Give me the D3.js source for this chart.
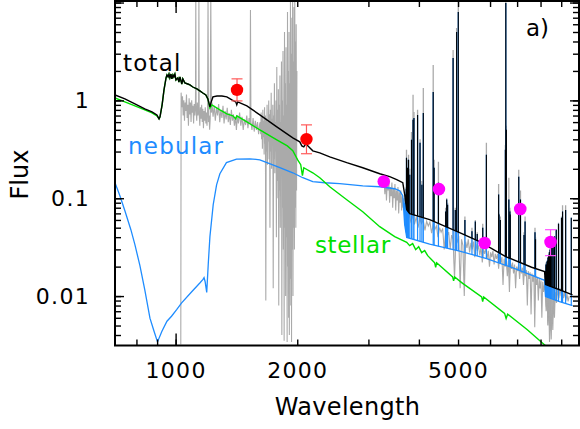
<!DOCTYPE html>
<html>
<head>
<meta charset="utf-8">
<script src="https://cdn.jsdelivr.net/npm/d3@7"></script>
<style>
  body { margin: 0; background: #fff; }
  text { font-family: "DejaVu Sans", sans-serif; }
</style>
</head>
<body>
<div id="chart"></div>
<script>
// SED panel a) -- wavelength [A] vs flux, log-log

// observed spectrum, UV part (wavelength, flux)
var obsUV = [
  [1030,0.0032],[1032,1.2],[1036,0.85],[1040,1.1],[1044,0.7],[1048,1.0],[1052,0.62],[1056,0.95],[1060,0.78],
  [1064,1.15],[1068,0.66],[1072,0.9],[1076,0.55],[1080,1.05],[1084,0.72],[1088,0.95],[1092,0.6],[1096,1.0],
  [1100,0.75],[1104,0.88],[1108,0.58],[1112,0.92],[1116,0.7],[1120,1.0],[1122,12],[1124,0.8],[1128,0.62],
  [1132,0.95],[1136,0.7],[1140,0.9],[1142,12],[1144,0.72],[1148,0.55],[1152,0.85],[1156,0.65],[1160,0.9],
  [1164,0.6],[1168,0.82],[1172,0.52],[1176,0.78],[1180,0.62],[1184,0.85],[1188,0.58],[1192,0.75],[1196,0.55],
  [1200,0.8],[1203,12],[1206,0.6],[1210,0.7],[1214,0.5],[1218,0.65],[1222,12],[1226,0.75],
  [1230,0.95],[1238,0.68],[1246,0.88],[1254,0.62],[1262,0.85],[1270,0.7],[1278,0.92],[1286,0.6],[1294,0.8],
  [1302,0.66],[1310,0.88],[1318,0.58],[1326,0.78],[1334,0.64],[1342,0.84],[1350,0.6],[1358,0.74],[1366,0.56],
  [1374,0.8],[1382,0.62],[1390,0.72],[1398,0.55],[1406,0.68],[1414,0.5],[1422,0.7],[1430,0.58],[1440,0.75],
  [1450,0.55],[1460,0.68],[1470,0.5],[1480,0.64],[1490,0.56],[1500,0.7],[1510,0.52],[1520,0.66],[1528,0.58],
  [1532,8.4],[1536,0.6],[1545,0.5],[1555,0.66],[1565,0.48],[1575,0.62],[1585,0.5],[1595,0.6],[1605,0.45],
  [1615,0.58],
  [1620,0.6],[1624,0.45],[1628,0.75],[1632,0.4],[1636,0.68],[1640,0.32],[1644,0.8],[1648,0.42],[1652,0.62],
  [1656,0.28],[1660,0.85],[1664,0.36],[1668,0.7],[1672,0.009],[1676,0.66],[1680,0.3],[1684,0.9],[1688,0.22],
  [1692,0.6],[1696,0.38],[1700,1.0],[1704,0.25],[1708,0.72],[1712,0.05],[1716,0.8],[1720,0.3],[1724,1.2],
  [1728,0.2],[1732,0.65],[1736,0.35],[1740,0.9],[1744,0.012],[1748,0.7],[1752,0.25],[1756,1.5],[1760,0.18],
  [1764,0.6],[1768,0.3],[1772,1.0],[1776,0.04],[1780,2.2],[1784,0.15],[1788,0.8],[1792,0.1],[1796,1.3],
  [1800,0.008],[1804,0.9],[1808,0.12],[1812,1.8],[1816,0.05],[1820,0.6],[1824,0.2],[1828,2.5],[1832,0.004],
  [1836,1.0],[1840,0.08],[1844,3.2],[1848,0.03],[1852,0.7],[1856,0.0035],[1860,5],[1864,0.05],[1868,1.5],
  [1872,0.01],[1876,3.5],[1880,0.04],[1884,0.9],[1888,0.0034],[1892,8],[1896,0.02],[1900,2.0],[1904,0.006],
  [1908,5],[1912,0.004],[1916,1.5],[1920,0.015],[1924,12],[1928,0.008],[1932,3],[1936,0.0034],[1940,7],
  [1944,0.03],[1948,12],[1952,0.01],[1956,2.5],[1960,0.05],[1964,9],[1968,0.03],[1972,12],[1976,0.08],
  [1980,4],[1984,0.05],[1988,6],[1992,0.12],[1996,2]
];

// observed spectrum, optical part
var obsOpt = [
  [3280,0.15],[3295,0.11],[3310,0.16],[3325,0.095],[3340,0.14],[3355,0.12],[3370,0.155],[3385,0.09],[3400,0.13],
  [3415,0.105],[3430,0.145],[3445,0.08],[3460,0.125],[3475,0.1],[3490,0.14],[3505,0.075],[3520,0.12],[3535,0.095],
  [3550,0.13],[3565,0.07],[3580,0.115],[3595,0.09],[3610,0.12],[3625,0.075],[3640,0.105],[3655,0.08],[3670,0.1],
  [3700,0.075],[3740,0.062],[3780,0.07],[3820,0.058],[3860,0.066],[3900,0.054],[3940,0.064],[3980,0.05],
  [4020,0.062],[4060,0.055],[4100,0.06],[4140,0.047],[4180,0.058],[4220,0.052],[4260,0.057],[4300,0.044],
  [4340,0.054],[4380,0.048],[4420,0.052],[4460,0.04],[4500,0.05],[4540,0.045],[4580,0.049],[4620,0.03],
  [4660,0.046],[4700,0.041],[4740,0.045],[4780,0.03],[4820,0.042],[4860,0.038],[4900,0.015],[4940,0.04],
  [4980,0.036],[5020,0.041],[5060,0.012],[5100,0.038],[5140,0.033],[5180,0.01],[5220,0.036],[5260,0.031],
  [5300,0.038],[5340,0.028],[5380,0.035],[5420,0.03],[5460,0.036],[5500,0.025],[5540,0.034],[5580,0.029],
  [5620,0.033],[5660,0.026],[5700,0.032],[5740,0.022],[5780,0.03],[5820,0.027],[5860,0.031],[5900,0.024],
  [5940,0.029],[5980,0.02],[6020,0.028],[6060,0.025],[6100,0.029],[6140,0.021],[6180,0.027],[6220,0.024],
  [6260,0.027],[6300,0.019],[6340,0.026],[6380,0.022],[6420,0.025],[6460,0.013],[6500,0.024],[6540,0.02],
  [6580,0.024],[6620,0.016],[6660,0.023],[6700,0.011],[6740,0.022],[6780,0.019],[6820,0.022],[6860,0.017],
  [6900,0.021],[6940,0.012],[6980,0.02],[7020,0.018],[7060,0.021],[7100,0.015],[7140,0.02],[7180,0.017],
  [7220,0.0195],[7260,0.013],[7300,0.019],[7340,0.016],[7380,0.0185],[7420,0.008],[7460,0.018],[7500,0.015],
  [7540,0.0175],[7580,0.0065],[7620,0.017],[7660,0.014],[7700,0.0165],[7740,0.0048],[7780,0.016],[7820,0.013],
  [7860,0.0155],[7900,0.009],[7940,0.015],[7980,0.012],[8020,0.0145],[8060,0.006],[8100,0.014],[8140,0.011],
  [8180,0.013],[8220,0.011],[8260,0.007],[8300,0.012],[8340,0.005],[8380,0.0095],[8420,0.0034],[8460,0.008],
  [8500,0.0036],[8540,0.009],[8580,0.0045],[8620,0.0105],[8660,0.006],[8700,0.011],[8760,0.0085],[8820,0.0115],
  [8880,0.0095],[8940,0.012],[9000,0.01],[9060,0.0115],[9120,0.0095],[9180,0.011],[9240,0.009],[9300,0.0105],
  [9360,0.0088],[9420,0.01]
];

// model continua
var totalCont = [
  [708,1.138],[749,1.036],[793,0.921],[839,0.819],[874,0.763],[899,0.711],[910,0.647],[915,0.678],[926,0.90],
  [936,1.28],[947,1.70],[952,1.82],[958,1.74],[963,1.86],[968,1.70],[974,1.86],[979,1.66],[985,1.82],[990,1.74],
  [996,1.86],[1002,1.62],[1013,1.70],[1019,1.54],[1025,1.74],[1036,1.47],[1042,1.66],[1054,1.51],[1072,1.47],
  [1085,1.44],[1103,1.37],[1129,1.31],[1148,1.25],[1168,1.19],[1188,1.138],[1202,1.036],[1216,0.858],[1223,0.943],
  [1237,1.085],[1266,1.11],[1302,1.11],[1339,1.085],[1378,1.012],[1409,0.965],[1417,0.90],[1425,0.965],
  [1501,0.879],[1616,0.711],[1780,0.537],[1950,0.414],[2029,0.377],[2053,0.343],[2076,0.335],[2100,0.36],
  [2185,0.305],[2274,0.291],[2407,0.265],[2652,0.231],[2905,0.205],[3200,0.178],[3387,0.166],[3525,0.155],
  [3649,0.144],[3689,0.109],[3732,0.0763],[3795,0.0695],[4253,0.0604],[5045,0.0445],[5654,0.036],[6560,0.0253],
  [7602,0.0197],[8185,0.0178],[8232,0.0131],[8913,0.0116],[9599,0.0103]
];

var stellarCont = [
  [708,1.06],[749,0.965],[793,0.879],[839,0.80],[874,0.745],[899,0.695],[910,0.647],[915,0.678],[926,0.90],
  [936,1.28],[947,1.70],[952,1.82],[958,1.74],[963,1.86],[968,1.70],[974,1.86],[979,1.66],[985,1.82],[990,1.74],
  [996,1.86],[1002,1.62],[1013,1.70],[1019,1.54],[1025,1.74],[1036,1.47],[1042,1.66],[1054,1.51],[1072,1.47],
  [1085,1.44],[1103,1.37],[1129,1.31],[1148,1.25],[1168,1.19],[1188,1.138],[1202,1.036],[1216,0.838],[1230,0.90],
  [1287,0.80],[1339,0.728],[1386,0.695],[1409,0.647],[1417,0.695],[1501,0.603],[1616,0.50],[1780,0.395],
  [1890,0.343],[1950,0.306],[2005,0.247],[2040,0.22],[2060,0.17],[2076,0.205],[2185,0.182],[2274,0.162],
  [2407,0.131],[2652,0.0966],[2905,0.0728],[3200,0.0512],[3485,0.0406],[3732,0.0354],[3795,0.0328],[3860,0.0344],
  [3927,0.0298],[3995,0.032],[4064,0.0278],[4134,0.0292],[4206,0.0259],[4326,0.023],[4376,0.0219],[4401,0.0197],
  [4426,0.0219],[4848,0.0157],[4875,0.0143],[4903,0.0157],[5133,0.0135],[5720,0.00981],[5753,0.00878],
  [5787,0.00981],[6518,0.00666],[6575,0.00591],[6632,0.00653],[7408,0.00455],[8232,0.00311]
];

var nebularCont = [
  [708,0.144],[728,0.106],[749,0.0745],[775,0.0477],[793,0.0335],[816,0.0205],[839,0.0116],[864,0.00595],
  [884,0.0044],[902,0.0034],[925,0.00437],[952,0.00553],[977,0.00622],[1006,0.00726],[1035,0.00853],
  [1099,0.0112],[1148,0.0136],[1169,0.0148],[1176,0.0154],[1183,0.0141],[1194,0.0109],[1205,0.0219],
  [1216,0.0405],[1239,0.0859],[1263,0.137],[1287,0.178],[1336,0.231],[1415,0.251],[1527,0.253],[1616,0.247],
  [1683,0.231],[1811,0.205],[1950,0.182],[2064,0.162],[2185,0.148],[2340,0.144],[2548,0.141],[2905,0.134],
  [3200,0.131],[3485,0.125],[3585,0.119],[3649,0.106],[3689,0.0537],[3732,0.0397],[4253,0.0339],[5045,0.0288],
  [5885,0.0242],[6860,0.0193],[8185,0.0145],[8232,0.00988],[8913,0.00878],[9599,0.00798]
];

// emission lines: wavelength, model peak, observed peak
var emLines = [
  [3686,0.09,0.095],[3697,0.1,0.105],[3712,0.109,0.115],[3722,0.125,0.13],[3727,0.259,0.313],[3734,0.15,0.16],
  [3750,0.205,0.247],[3771,0.247,0.278],[3798,0.174,0.2],[3835,0.395,0.476],[3869,0.633,1.14],[3889,0.66,0.763],
  [3970,0.711,0.80],[4026,0.368,0.40],[4069,0.137,0.15],[4102,0.745,1.34],[4340,1.22,2.3],[4363,0.205,0.247],
  [4471,0.144,0.236],[4658,0.073,0.08],[4686,0.097,0.1],[4711,0.086,0.09],[4861,2.71,3.28],[4922,0.076,0.08],
  [4959,5.0,5.5],[5007,8.0,13],[5199,0.06,0.065],[5412,0.046,0.05],[5517,0.058,0.06],[5577,0.043,0.045],
  [5755,0.05,0.055],[5876,0.278,0.37],[6300,0.109,0.14],[6312,0.068,0.07],[6363,0.06,0.065],[6548,0.313,0.35],
  [6563,9.9,13],[6584,0.5,0.55],[6678,0.097,0.162],[6717,0.073,0.08],[6731,0.068,0.075],[7065,0.166,0.195],
  [7136,0.097,0.12],[7281,0.042,0.045],[7325,0.058,0.065],[7751,0.045,0.05],[7774,0.038,0.04],
  [8220,0.016,0.016],[8235,0.018,0.018],[8250,0.021,0.022],[8270,0.02,0.02],[8285,0.021,0.021],
  [8300,0.0224,0.023],[8320,0.023,0.023],[8335,0.023,0.023],[8350,0.0247,0.025],[8365,0.025,0.025],
  [8380,0.026,0.026],[8400,0.0265,0.027],[8413,0.028,0.028],[8425,0.028,0.028],[8446,0.0298,0.03],
  [8467,0.031,0.031],[8502,0.0328,0.033],[8545,0.0344,0.035],[8598,0.0377,0.038],[8665,0.0406,0.041],
  [8750,0.0477,0.048],[8863,0.055,0.056],[9015,0.063,0.065],[9069,0.073,0.085],[9229,0.076,0.085],
  [9532,0.063,0.07]
];

// photometry: wavelength, flux, low, high
var uvPhot = [[1419,1.28,0.988,1.66],[2108,0.402,0.285,0.562]];
var optPhot = [[3274,0.148],[4484,0.124],[5817,0.0349],[7127,0.0776],[8469,0.0357,0.0259,0.0477]];

// ticks
var xTicks = [800,900,1000,2000,3000,4000,5000,6000,7000,8000,9000];
var xMajor = [1000];
var xLabels = [1000,2000,5000];
var yTicks = [0.004,0.005,0.006,0.007,0.008,0.009,0.01,0.02,0.03,0.04,0.05,0.06,0.07,0.08,0.09,
              0.1,0.2,0.3,0.4,0.5,0.6,0.7,0.8,0.9,1,2,3,4,5,6,7,8,9,10];
var yMajor = [0.01,0.1,1,10];
var yLabels = [0.01,0.1,1];

// set up svg area
var svgWidth = 580;
var svgHeight = 429;
var plotLeft = 115, plotRight = 579, plotTop = 1, plotBottom = 345.5;

var svg = d3.select('#chart')
  .append('svg')
  .attr('width', svgWidth)
  .attr('height', svgHeight);

var x = d3.scaleLog().domain([708, 9960]).range([plotLeft, plotRight]);
var y = d3.scaleLog().domain([0.003125, 10.37]).range([plotBottom, plotTop]);

var line = d3.line().x(d => x(d[0])).y(d => y(d[1]));
var above = d3.area().x(d => x(d[0])).y0(-50).y1(d => y(d[1]));

var defs = svg.append('defs');
defs.append('clipPath').attr('id', 'plot')
  .append('rect').attr('x', plotLeft).attr('y', plotTop)
  .attr('width', plotRight - plotLeft).attr('height', plotBottom - plotTop);

// clip regions above each continuum, so line spikes start at their continuum
var cObs = defs.append('clipPath').attr('id', 'aboveObs');
cObs.append('path').attr('d', above(obsUV));
cObs.append('path').attr('d', above(obsOpt));
defs.append('clipPath').attr('id', 'aboveNeb').append('path').attr('d', above(nebularCont));
defs.append('clipPath').attr('id', 'aboveTot').append('path').attr('d', above(totalCont));

var plot = svg.append('g').attr('clip-path', 'url(#plot)');

function spikes(clipId, idx, color, w) {
  plot.append('g')
    .attr('clip-path', 'url(#' + clipId + ')')
    .selectAll('line')
    .data(emLines)
    .enter()
    .append('line')
    .attr('x1', d => x(d[0]))
    .attr('x2', d => x(d[0]))
    .attr('y1', d => y(d[idx]))
    .attr('y2', plotBottom + 5)
    .attr('stroke', color)
    .attr('stroke-width', w);
}

// observed spectrum (grey)
[obsUV, obsOpt].forEach(function(s) {
  plot.append('path').datum(s)
    .attr('d', line)
    .attr('fill', 'none')
    .attr('stroke', '#aaaaaa')
    .attr('stroke-width', 1.1);
});
spikes('aboveObs', 2, '#aaaaaa', 1.3);

// nebular
plot.append('path').datum(nebularCont)
  .attr('d', line).attr('fill', 'none')
  .attr('stroke', '#1e8cff').attr('stroke-width', 1.3);
spikes('aboveNeb', 1, '#1e8cff', 1.2);

// stellar
plot.append('path').datum(stellarCont)
  .attr('d', line).attr('fill', 'none')
  .attr('stroke', '#00e000').attr('stroke-width', 1.4);

// total
plot.append('path').datum(totalCont)
  .attr('d', line).attr('fill', 'none')
  .attr('stroke', '#000').attr('stroke-width', 1.4);
spikes('aboveTot', 1, '#000', 1.1);

// photometric points with error bars
function errBars(data, color) {
  var g = svg.append('g').attr('stroke', color).attr('stroke-width', 1.2);
  data.filter(d => d.length > 2).forEach(function(d) {
    var px = x(d[0]);
    g.append('line').attr('x1', px).attr('x2', px).attr('y1', y(d[2])).attr('y2', y(d[3]));
    g.append('line').attr('x1', px - 5.5).attr('x2', px + 5.5).attr('y1', y(d[2])).attr('y2', y(d[2]));
    g.append('line').attr('x1', px - 5.5).attr('x2', px + 5.5).attr('y1', y(d[3])).attr('y2', y(d[3]));
  });
}
errBars(uvPhot, '#ff5a5a');
errBars(optPhot, '#ff50ff');

svg.selectAll(null).data(uvPhot).enter().append('circle')
  .attr('cx', d => x(d[0])).attr('cy', d => y(d[1])).attr('r', 6.2).attr('fill', '#ff0000');
svg.selectAll(null).data(optPhot).enter().append('circle')
  .attr('cx', d => x(d[0])).attr('cy', d => y(d[1])).attr('r', 6.3).attr('fill', '#ff00ff');

// axes
function styleAxis(g) {
  g.select('.domain').remove();
  g.selectAll('line').attr('stroke', '#000').attr('stroke-width', 1.4);
  g.attr('font-size', 22).attr('font-family', '"DejaVu Sans", sans-serif');
  g.selectAll('text').attr('fill', '#000').style('letter-spacing', '1.3px');
}

svg.append('g').attr('transform', `translate(0, ${plotBottom})`)
  .call(d3.axisBottom(x).tickValues(xTicks).tickSize(-6).tickSizeOuter(0).tickPadding(17)
    .tickFormat(d => xLabels.indexOf(d) >= 0 ? d : ''))
  .call(styleAxis);
svg.append('g').attr('transform', `translate(0, ${plotBottom})`)
  .call(d3.axisBottom(x).tickValues(xMajor).tickSize(-12).tickSizeOuter(0).tickFormat(''))
  .call(styleAxis);
svg.append('g').attr('transform', `translate(0, ${plotTop})`)
  .call(d3.axisTop(x).tickValues(xTicks).tickSize(-6).tickSizeOuter(0).tickFormat(''))
  .call(styleAxis);
svg.append('g').attr('transform', `translate(0, ${plotTop})`)
  .call(d3.axisTop(x).tickValues(xMajor).tickSize(-12).tickSizeOuter(0).tickFormat(''))
  .call(styleAxis);

svg.append('g').attr('transform', `translate(${plotLeft}, 0)`)
  .call(d3.axisLeft(y).tickValues(yTicks).tickSize(-6).tickSizeOuter(0).tickPadding(25)
    .tickFormat(d => yLabels.indexOf(d) >= 0 ? String(d) : ''))
  .call(styleAxis);
svg.append('g').attr('transform', `translate(${plotLeft}, 0)`)
  .call(d3.axisLeft(y).tickValues(yMajor).tickSize(-9).tickSizeOuter(0).tickFormat(''))
  .call(styleAxis);
svg.append('g').attr('transform', `translate(${plotRight}, 0)`)
  .call(d3.axisRight(y).tickValues(yTicks).tickSize(-6).tickSizeOuter(0).tickFormat(''))
  .call(styleAxis);
svg.append('g').attr('transform', `translate(${plotRight}, 0)`)
  .call(d3.axisRight(y).tickValues(yMajor).tickSize(-9).tickSizeOuter(0).tickFormat(''))
  .call(styleAxis);

// frame
svg.append('rect')
  .attr('x', plotLeft).attr('y', plotTop)
  .attr('width', plotRight - plotLeft).attr('height', plotBottom - plotTop)
  .attr('fill', 'none').attr('stroke', '#000').attr('stroke-width', 2);

// axis titles
svg.append('text')
  .attr('x', 347.5).attr('y', 415)
  .attr('text-anchor', 'middle')
  .attr('font-size', 24)
  .style('letter-spacing', '0.3px')
  .text('Wavelength');

svg.append('text')
  .attr('transform', 'translate(28, 174.5) rotate(-90)')
  .attr('text-anchor', 'middle')
  .attr('font-size', 24)
  .text('Flux');

// curve labels
svg.append('text').attr('x', 123).attr('y', 71).attr('font-size', 23)
  .style('letter-spacing', '1.2px').attr('fill', '#000').text('total');
svg.append('text').attr('x', 128).attr('y', 153.5).attr('font-size', 23)
  .style('letter-spacing', '1.2px').attr('fill', '#1e8cff').text('nebular');
svg.append('text').attr('x', 315).attr('y', 253).attr('font-size', 23)
  .style('letter-spacing', '0.6px').attr('fill', '#00e000').text('stellar');
svg.append('text').attr('x', 526).attr('y', 36).attr('font-size', 23)
  .attr('fill', '#000').text('a)');
</script>
</body>
</html>
